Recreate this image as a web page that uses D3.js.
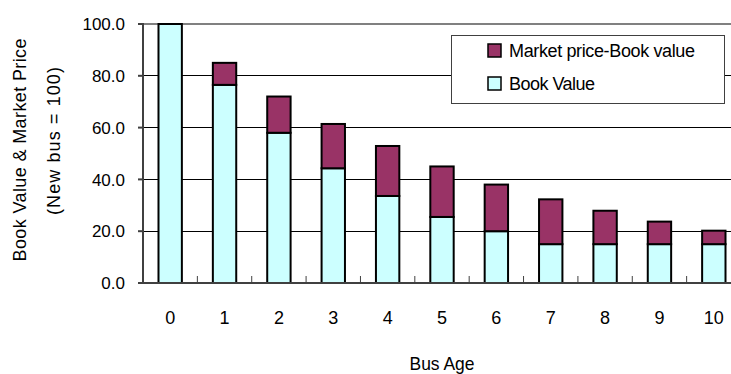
<!DOCTYPE html>
<html>
<head>
<meta charset="utf-8">
<script src="https://cdn.jsdelivr.net/npm/d3@7"></script>
<style>
  html, body { margin: 0; padding: 0; background: #fff; }
  svg { display: block; }
  text { font-family: "Liberation Sans Narrow", "Arial Narrow", "Liberation Sans", Arial, sans-serif; fill: #000; }
</style>
</head>
<body>
<svg id="chart" width="731" height="374"></svg>
<script>
const categories = ["0","1","2","3","4","5","6","7","8","9","10"];
const bookValue = [100, 76.5, 58, 44.3, 33.6, 25.5, 20, 15, 15, 15, 15];
const marketMinusBook = [0, 8.5, 14, 17.1, 19.3, 19.5, 18, 17.3, 12.9, 8.7, 5.2];
const yTicks = [0, 20, 40, 60, 80, 100];
const seriesNames = ["Market price-Book value", "Book Value"];
const xTitle = "Bus Age";
const yTitle1 = "Book Value & Market Price";
const yTitle2 = "(New bus = 100)";

const colors = { book: "#CCFFFF", diff: "#993366" };

const svg = d3.select("#chart");
const mLeft = 143, mRight = 741, mTop = 24, mBottom = 283;

const x = d3.scaleBand().domain(categories).range([mLeft, mRight]).paddingInner(0.57).paddingOuter(0.285);
const y = d3.scaleLinear().domain([0, 100]).range([mBottom, mTop]);

// gridlines
svg.append("g").selectAll("line").data(yTicks.filter(d => d > 0 && d < 100)).join("line")
  .attr("x1", mLeft).attr("x2", mRight)
  .attr("y1", d => y(d)).attr("y2", d => y(d))
  .attr("stroke", "#000").attr("stroke-width", 1).attr("shape-rendering", "crispEdges");
// top border line
svg.append("line").attr("x1", mLeft).attr("x2", mRight).attr("y1", y(100)).attr("y2", y(100))
  .attr("stroke", "#808080").attr("stroke-width", 2);

const data = categories.map((c, i) => ({ c, book: bookValue[i], diff: marketMinusBook[i] }));

const bars = svg.append("g");
bars.selectAll("rect.book").data(data).join("rect").attr("class", "book")
  .attr("x", d => x(d.c)).attr("width", x.bandwidth())
  .attr("y", d => y(d.book)).attr("height", d => y(0) - y(d.book))
  .attr("fill", colors.book).attr("stroke", "#000").attr("stroke-width", 2);
bars.selectAll("rect.diff").data(data.filter(d => d.diff > 0)).join("rect").attr("class", "diff")
  .attr("x", d => x(d.c)).attr("width", x.bandwidth())
  .attr("y", d => y(d.book + d.diff)).attr("height", d => y(d.book) - y(d.book + d.diff))
  .attr("fill", colors.diff).attr("stroke", "#000").attr("stroke-width", 2);

// x axis baseline
svg.append("line").attr("x1", mLeft).attr("x2", mRight).attr("y1", y(0)).attr("y2", y(0))
  .attr("stroke", "#404040").attr("stroke-width", 2);
const step = x.step();
svg.append("g").selectAll("line").data(categories.slice(1)).join("line")
  .attr("x1", d => x(d) - x.paddingOuter() * step).attr("x2", d => x(d) - x.paddingOuter() * step)
  .attr("y1", y(0)).attr("y2", y(0) - 7)
  .attr("stroke", "#404040").attr("stroke-width", 1);

// y axis line
svg.append("line").attr("x1", mLeft).attr("x2", mLeft).attr("y1", mTop - 1).attr("y2", mBottom + 1)
  .attr("stroke", "#404040").attr("stroke-width", 2);
svg.append("g").selectAll("line").data(yTicks).join("line")
  .attr("x1", mLeft - 5).attr("x2", mLeft).attr("y1", d => y(d)).attr("y2", d => y(d))
  .attr("stroke", "#404040").attr("stroke-width", 2);

// y tick labels
svg.append("g").selectAll("text").data(yTicks).join("text")
  .attr("x", 125).attr("y", d => y(d)).attr("dy", "0.36em")
  .attr("text-anchor", "end").attr("font-size", 17)
  .text(d => d.toFixed(1));

// x tick labels
svg.append("g").selectAll("text").data(categories).join("text")
  .attr("x", d => x(d) + x.bandwidth() / 2).attr("y", 324)
  .attr("text-anchor", "middle").attr("font-size", 18)
  .text(d => d);

// x title
svg.append("text").attr("x", 442).attr("y", 370).attr("text-anchor", "middle")
  .attr("font-size", 19).attr("textLength", 65).attr("lengthAdjust", "spacingAndGlyphs").text(xTitle);

// y titles
svg.append("text").attr("transform", "translate(26,150) rotate(-90)")
  .attr("text-anchor", "middle").attr("font-size", 18)
  .attr("textLength", 223).attr("lengthAdjust", "spacing").text(yTitle1);
svg.append("text").attr("transform", "translate(59.5,141) rotate(-90)")
  .attr("text-anchor", "middle").attr("font-size", 18)
  .attr("textLength", 148).attr("lengthAdjust", "spacing").text(yTitle2);

// legend
const lg = svg.append("g");
lg.append("rect").attr("x", 451.5).attr("y", 35.5).attr("width", 273).attr("height", 68)
  .attr("fill", "#fff").attr("stroke", "#404040").attr("stroke-width", 1);
const legendItems = [
  { name: seriesNames[0], color: colors.diff, y: 44, len: 186 },
  { name: seriesNames[1], color: colors.book, y: 77, len: 86 }
];
legendItems.forEach(it => {
  lg.append("rect").attr("x", 488).attr("y", it.y).attr("width", 13).attr("height", 13)
    .attr("fill", it.color).attr("stroke", "#000").attr("stroke-width", 1.5);
  lg.append("text").attr("x", 509).attr("y", it.y + 13).attr("font-size", 18)
    .attr("textLength", it.len).attr("lengthAdjust", "spacing").text(it.name);
});
</script>
</body>
</html>
